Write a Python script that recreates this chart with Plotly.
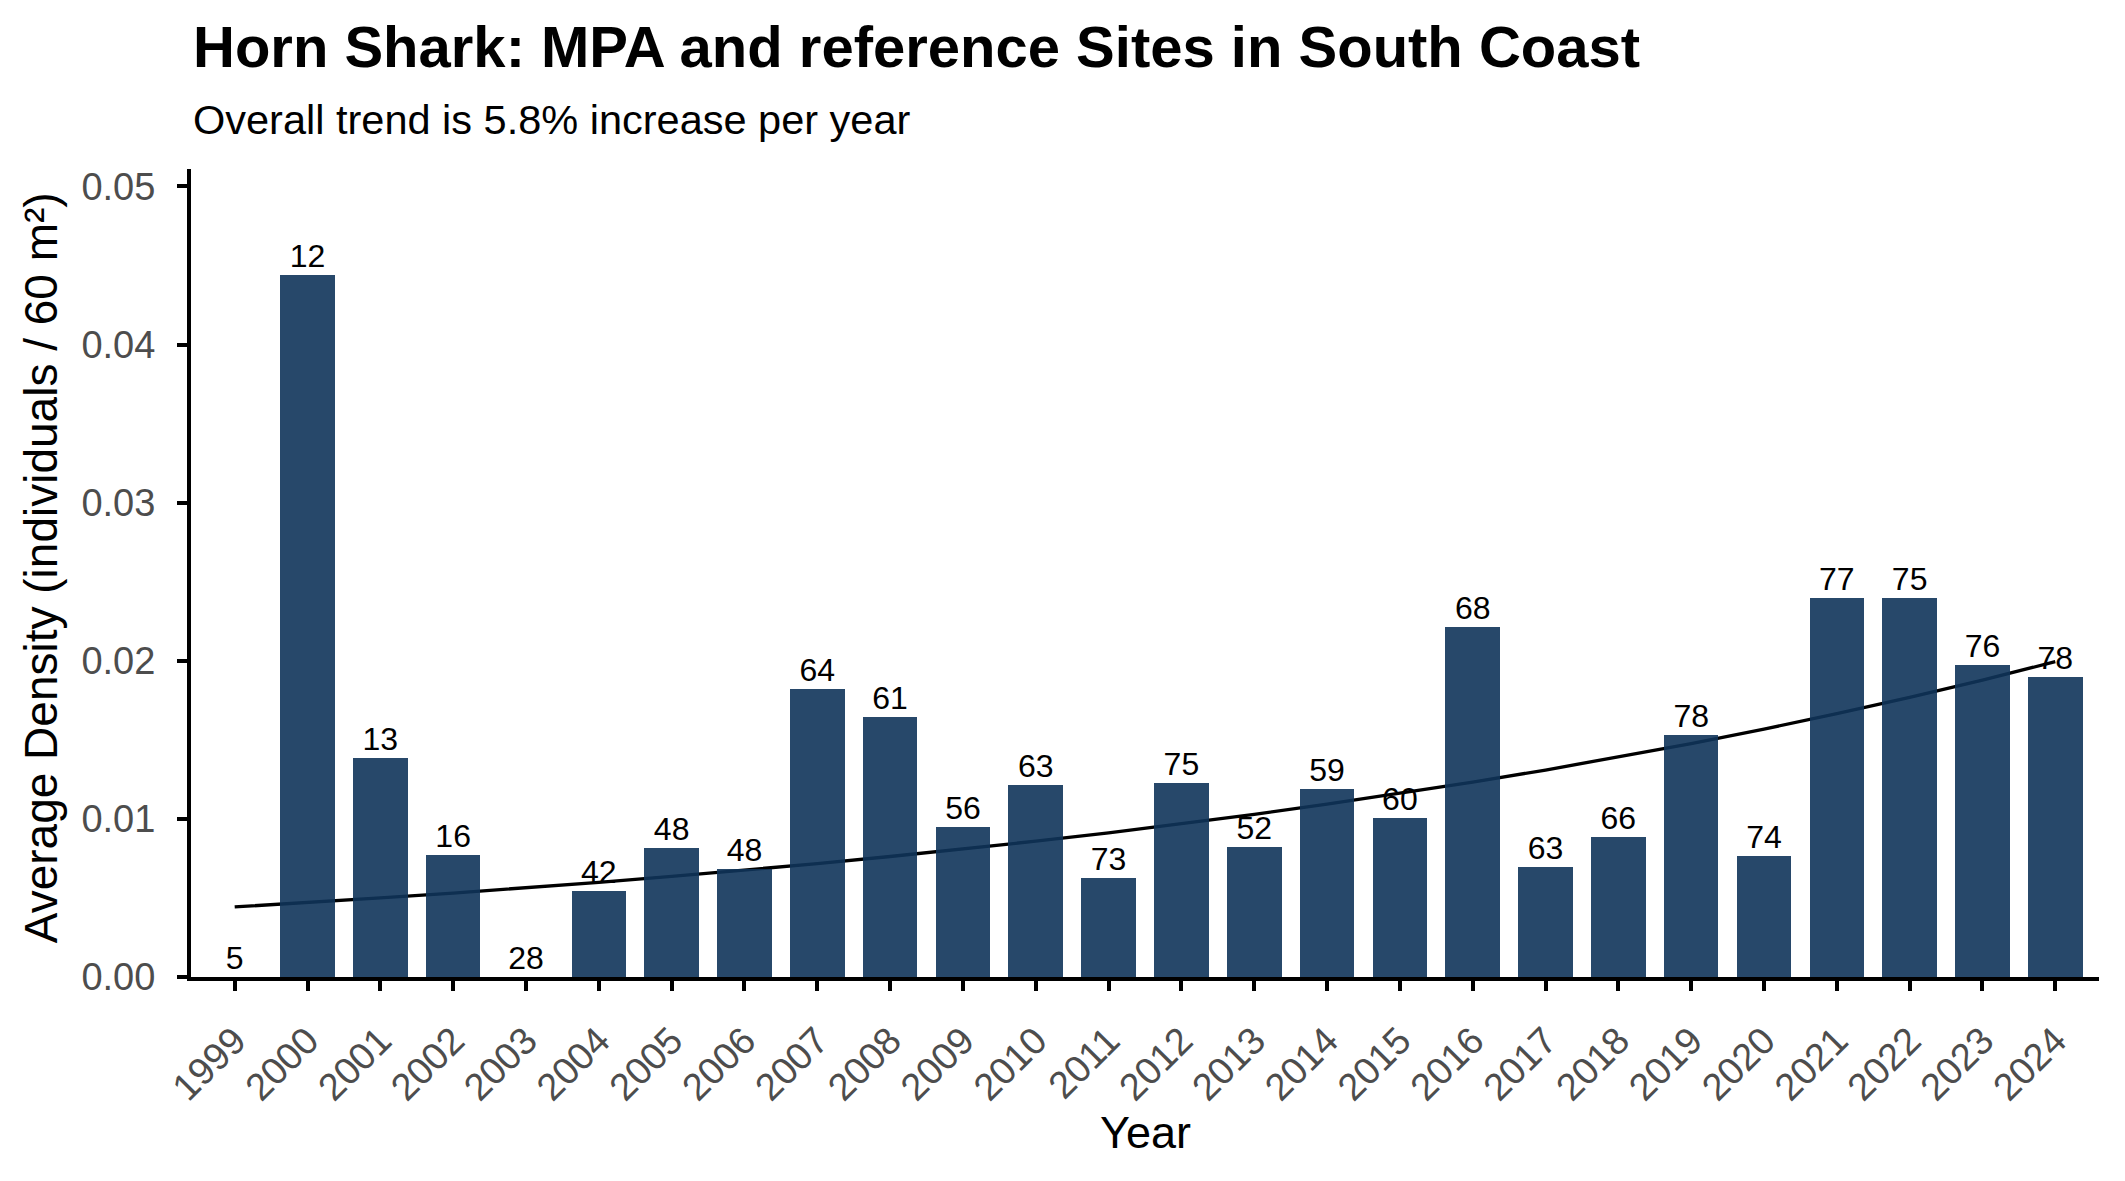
import plotly.graph_objects as go

years = list(range(1999, 2025))
density = [0.0, 0.04442, 0.01385, 0.00774, 0.0, 0.00543, 0.00813, 0.00684,
           0.01821, 0.01643, 0.00950, 0.01215, 0.00629, 0.01228, 0.00824,
           0.01189, 0.01007, 0.02211, 0.00698, 0.00887, 0.01530, 0.00767,
           0.02399, 0.02399, 0.01971, 0.01895]
counts = ["5", "12", "13", "16", "28", "42", "48", "48", "64", "61", "56", "63",
          "73", "75", "52", "59", "60", "68", "63", "66", "78", "74", "77",
          "75", "76", "78"]
trend = [0.00443, 0.00470, 0.00500, 0.00531, 0.00564, 0.00599, 0.00636,
         0.00675, 0.00717, 0.00762, 0.00809, 0.00859, 0.00912, 0.00969,
         0.01029, 0.01093, 0.01160, 0.01232, 0.01309, 0.01390, 0.01476,
         0.01568, 0.01665, 0.01768, 0.01878, 0.01994]
y_ticks = [0.0, 0.01, 0.02, 0.03, 0.04, 0.05]
y_ticktext = ["0.00", "0.01", "0.02", "0.03", "0.04", "0.05"]

title_text = "<b>Horn Shark: MPA and reference Sites in South Coast</b>"
subtitle_text = "Overall trend is 5.8% increase per year"
x_title = "Year"
y_title = "Average Density (individuals / 60 m²)"

FONT = "Liberation Sans, Arial, sans-serif"
XR = [1998.4, 2024.6]
YR = [0, 0.0511]

fig = go.Figure()

# trend line (drawn underneath the bars)
fig.add_trace(go.Scatter(x=years, y=trend, mode="lines",
                         line=dict(color="black", width=3.3),
                         xaxis="x", yaxis="y", showlegend=False,
                         hoverinfo="skip"))

fig.add_trace(go.Bar(x=years, y=density, width=0.75,
                     marker=dict(color="rgb(15,52,90)", opacity=0.9,
                                 line=dict(width=0)),
                     xaxis="x2", yaxis="y2", showlegend=False))

fig.add_trace(go.Scatter(x=years, y=density, mode="text", text=counts,
                         textposition="top center",
                         textfont=dict(family=FONT, size=32, color="black"),
                         xaxis="x2", yaxis="y2", showlegend=False,
                         cliponaxis=False))

hidden = dict(visible=False, showgrid=False, zeroline=False)
axis_common = dict(showgrid=False, zeroline=False, showline=True,
                   linecolor="black", linewidth=4, ticks="outside",
                   ticklen=10, tickwidth=4, tickcolor="black",
                   tickfont=dict(family=FONT, size=38, color="#4D4D4D"))

fig.update_layout(
    width=2125, height=1181, autosize=False,
    margin=dict(l=191, r=26, t=169, b=204),
    paper_bgcolor="white", plot_bgcolor="white",
    bargap=0,
    xaxis=dict(range=XR, **hidden),
    yaxis=dict(range=YR, **hidden),
    xaxis2=dict(overlaying="x", range=XR, tickmode="array", tickvals=years,
                ticktext=[str(y) for y in years], tickangle=-45,
                ticklabelstandoff=12, **axis_common),
    yaxis2=dict(overlaying="y", range=YR, tickmode="array", tickvals=y_ticks,
                ticktext=y_ticktext, ticklabelstandoff=14, **axis_common),
    annotations=[
        dict(text=title_text, xref="paper", yref="paper", x=0, y=1.152,
             xanchor="left", yanchor="middle", showarrow=False,
             font=dict(family=FONT, size=58, color="black")),
        dict(text=subtitle_text, xref="paper", yref="paper", x=0, y=1.061,
             xanchor="left", yanchor="middle", showarrow=False,
             font=dict(family=FONT, size=41.5, color="black")),
        dict(text=x_title, xref="paper", yref="paper", x=0.5, y=-0.192,
             xanchor="center", yanchor="middle", showarrow=False,
             font=dict(family=FONT, size=45, color="black")),
        dict(text=y_title, xref="paper", yref="paper", x=-0.0786, y=0.506,
             xanchor="center", yanchor="middle", showarrow=False,
             textangle=-90,
             font=dict(family=FONT, size=46, color="black")),
    ],
)

fig.write_html("out.html")
